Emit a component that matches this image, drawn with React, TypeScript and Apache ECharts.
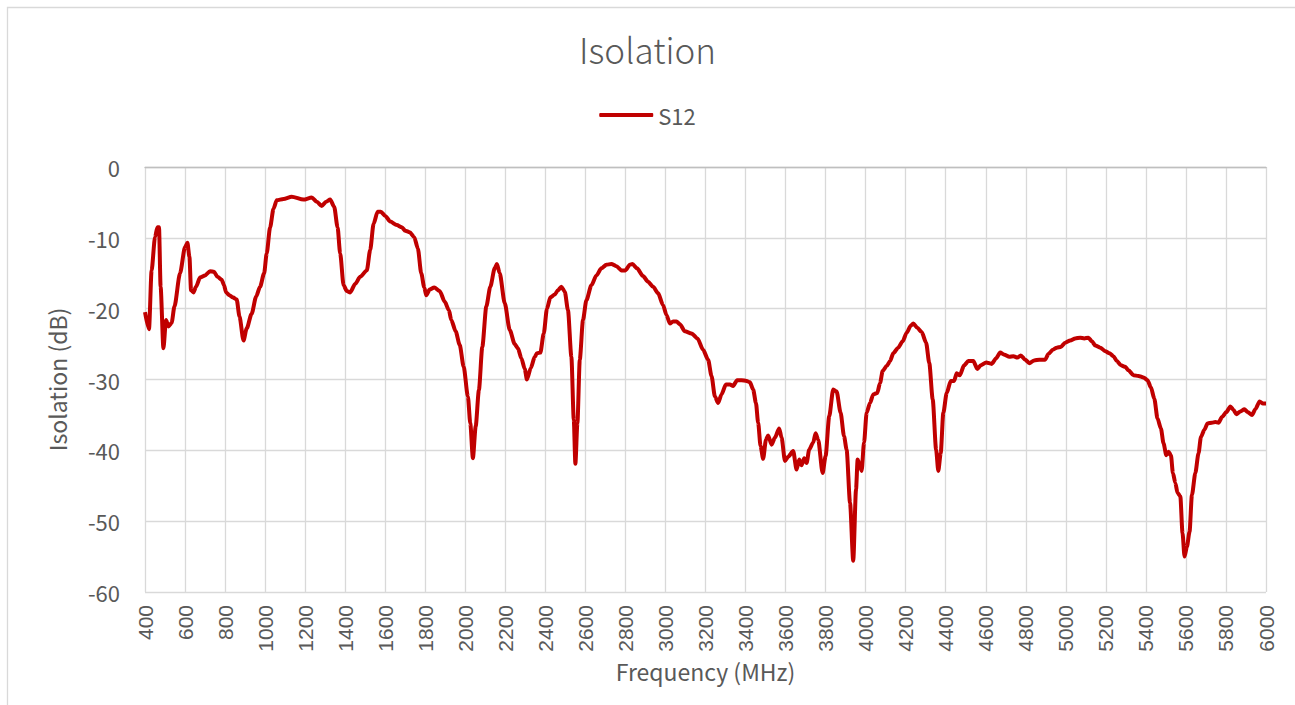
import React, { useEffect, useRef } from "react";
import * as echarts from "echarts";

const chartTitle = "Isolation";
const seriesName = "S12";
const xAxisTitle = "Frequency (MHz)";
const yAxisTitle = "Isolation (dB)";

const frequencyMHz = [
  400, 420, 433, 450, 462, 470, 478, 492, 505, 517, 533, 547, 575, 600, 612, 622, 630, 642, 655, 675,
  700, 725, 745, 762, 783, 795, 805, 822, 838, 858, 872, 892, 908, 933, 955, 975, 995, 1008, 1025, 1042,
  1058, 1092, 1133, 1192, 1233, 1258, 1283, 1305, 1325, 1345, 1362, 1375, 1392, 1408, 1425, 1450, 1475, 1508, 1525, 1542,
  1562, 1578, 1600, 1625, 1658, 1683, 1700, 1722, 1745, 1763, 1780, 1795, 1805, 1822, 1845, 1872, 1897, 1918, 1930, 1952,
  1972, 1992, 2013, 2025, 2038, 2052, 2068, 2085, 2105, 2125, 2147, 2158, 2172, 2197, 2222, 2247, 2263, 2280, 2297, 2308,
  2327, 2347, 2358, 2375, 2392, 2408, 2425, 2447, 2463, 2480, 2497, 2513, 2530, 2542, 2550, 2560, 2572, 2588, 2605, 2630,
  2655, 2680, 2705, 2730, 2755, 2780, 2800, 2822, 2835, 2858, 2888, 2913, 2938, 2963, 2988, 3005, 3022, 3038, 3055, 3072,
  3097, 3130, 3160, 3188, 3213, 3230, 3247, 3263, 3280, 3302, 3322, 3338, 3358, 3380, 3405, 3422, 3438, 3452, 3463, 3475,
  3488, 3502, 3513, 3530, 3547, 3568, 3580, 3597, 3613, 3638, 3655, 3668, 3680, 3693, 3705, 3718, 3738, 3750, 3763, 3785,
  3800, 3818, 3838, 3855, 3875, 3892, 3905, 3922, 3938, 3952, 3960, 3968, 3980, 3992, 4005, 4022, 4038, 4058, 4072, 4085,
  4105, 4122, 4138, 4163, 4185, 4205, 4225, 4238, 4258, 4280, 4302, 4318, 4335, 4352, 4363, 4375, 4388, 4405, 4425, 4442,
  4455, 4470, 4492, 4513, 4538, 4558, 4575, 4602, 4630, 4652, 4672, 4693, 4718, 4738, 4758, 4775, 4797, 4818, 4842, 4868,
  4897, 4913, 4935, 4955, 4975, 4997, 5022, 5047, 5072, 5092, 5113, 5130, 5147, 5172, 5197, 5218, 5238, 5255, 5275, 5297,
  5313, 5338, 5363, 5388, 5408, 5425, 5442, 5458, 5475, 5488, 5502, 5513, 5525, 5535, 5547, 5558, 5572, 5583, 5593, 5605,
  5618, 5630, 5647, 5663, 5675, 5692, 5708, 5730, 5747, 5763, 5780, 5802, 5822, 5838, 5852, 5872, 5892, 5908, 5930, 5947,
  5968, 5985, 6000,
];

const s12dB = [
  -20.5, -22.9, -14.6, -9.9, -8.5, -8.5, -16.9, -25.6, -21.6, -22.5, -22.0, -19.7, -15.0, -11.3, -10.7, -12.7, -17.4, -17.7, -16.9, -15.6,
  -15.3, -14.7, -14.8, -15.5, -15.9, -16.7, -17.7, -18.1, -18.4, -18.7, -21.1, -24.5, -22.8, -20.7, -18.3, -16.9, -15.0, -12.2, -8.5, -5.9,
  -4.7, -4.5, -4.2, -4.6, -4.3, -4.9, -5.5, -4.9, -4.6, -5.6, -8.5, -12.2, -16.7, -17.5, -17.7, -16.5, -15.5, -14.6, -11.7, -8.0,
  -6.3, -6.3, -6.9, -7.7, -8.2, -8.5, -9.0, -9.2, -9.9, -11.5, -15.0, -17.0, -18.1, -17.3, -17.0, -17.5, -19.0, -20.2, -21.6, -23.2,
  -25.1, -28.2, -32.4, -36.2, -41.1, -36.6, -31.5, -25.4, -19.7, -16.9, -14.3, -13.7, -15.0, -19.2, -23.0, -25.0, -25.6, -27.0, -28.5, -30.0,
  -28.4, -26.8, -26.3, -26.2, -23.5, -20.0, -18.4, -18.0, -17.4, -16.9, -17.6, -20.2, -26.8, -35.7, -41.9, -36.2, -27.2, -21.6, -18.8, -16.7,
  -15.3, -14.3, -13.8, -13.7, -14.0, -14.6, -14.6, -13.8, -13.7, -14.3, -15.4, -16.2, -16.9, -17.8, -19.5, -20.9, -22.1, -21.8, -21.8, -22.2,
  -23.2, -23.5, -24.2, -25.8, -27.2, -29.5, -32.4, -33.3, -32.1, -30.7, -30.7, -30.9, -30.1, -30.1, -30.2, -30.4, -31.4, -33.3, -36.1, -39.4,
  -41.2, -38.5, -37.9, -39.2, -38.2, -36.9, -38.2, -41.5, -40.9, -40.1, -42.7, -41.3, -42.1, -41.1, -41.8, -39.9, -38.9, -37.6, -38.5, -43.2,
  -40.8, -35.2, -31.4, -31.7, -34.7, -38.0, -39.9, -47.4, -55.6, -45.5, -41.3, -41.8, -42.9, -38.9, -34.7, -33.3, -32.1, -31.9, -30.5, -28.8,
  -28.1, -27.4, -26.3, -25.5, -24.6, -23.4, -22.4, -22.1, -22.7, -23.3, -24.8, -27.7, -32.8, -39.9, -42.9, -40.4, -34.7, -31.9, -30.2, -30.2,
  -29.1, -29.4, -28.0, -27.4, -27.4, -28.5, -28.0, -27.6, -27.8, -27.0, -26.2, -26.5, -26.8, -26.7, -26.9, -26.6, -27.2, -27.7, -27.3, -27.2,
  -27.2, -26.4, -25.8, -25.5, -25.4, -24.8, -24.5, -24.2, -24.1, -24.2, -24.1, -24.6, -25.2, -25.5, -26.0, -26.3, -26.7, -27.4, -28.0, -28.2,
  -28.7, -29.4, -29.5, -29.7, -30.1, -31.1, -32.7, -35.5, -36.9, -39.0, -40.7, -40.2, -40.7, -43.2, -44.6, -46.0, -46.5, -51.7, -55.0, -53.6,
  -51.5, -46.3, -43.2, -40.4, -38.1, -37.1, -36.2, -36.1, -36.0, -36.1, -35.3, -34.6, -33.8, -34.3, -34.9, -34.5, -34.2, -34.6, -35.0, -34.2,
  -33.1, -33.4, -33.4,
];

const xMin = 400;
const xMax = 6000;
const xStep = 200;
const yMin = -60;
const yMax = 0;
const yStep = 10;

const FONT = "'Noto Sans CJK SC', 'Noto Sans', sans-serif";
const TEXT_COLOR = "#595959";
const GRID_COLOR = "#D9D9D9";
const LINE_COLOR = "#C00000";

export default function App() {
  const ref = useRef<HTMLDivElement | null>(null);

  useEffect(() => {
    document.body.style.margin = "0";
    if (!ref.current) return;
    const chart = echarts.init(ref.current, null, { renderer: "svg" });
    const data = frequencyMHz.map((f, i) => [f, s12dB[i]]);
    chart.setOption({
      animation: false,
      backgroundColor: "#ffffff",
      textStyle: { fontFamily: FONT },
      graphic: [
        {
          type: "rect",
          left: 5,
          top: 5,
          shape: { x: 0, y: 0, width: 1289, height: 720 },
          style: { fill: "none", stroke: GRID_COLOR, lineWidth: 1.3 },
          silent: true,
        },
      ],
      title: {
        text: chartTitle,
        left: "center",
        top: 26,
        textStyle: {
          fontFamily: FONT,
          fontSize: 35,
          fontWeight: 300,
          color: TEXT_COLOR,
        },
      },
      legend: {
        top: 99,
        left: "center",
        icon: "roundRect",
        itemWidth: 54,
        itemHeight: 4,
        itemGap: 10,
        textStyle: { fontFamily: FONT, fontSize: 22, color: TEXT_COLOR },
        data: [seriesName],
      },
      grid: {
        left: 145,
        top: 167,
        width: 1121,
        height: 425,
        containLabel: false,
      },
      xAxis: {
        type: "value",
        min: xMin,
        max: xMax,
        interval: xStep,
        name: xAxisTitle,
        nameLocation: "middle",
        nameGap: 45,
        nameTextStyle: { fontFamily: FONT, fontSize: 23, color: TEXT_COLOR },
        axisLine: { show: true, lineStyle: { color: "#BFBFBF", width: 1.3 } },
        axisTick: { show: false },
        axisLabel: {
          rotate: 90,
          margin: 13,
          fontFamily: "'Liberation Sans', Arial, sans-serif",
          fontSize: 21,
          color: TEXT_COLOR,
          formatter: (v: number) => String(v),
        },
        splitLine: { show: true, lineStyle: { color: GRID_COLOR, width: 1.3 } },
      },
      yAxis: {
        type: "value",
        min: yMin,
        max: yMax,
        interval: yStep,
        name: yAxisTitle,
        nameLocation: "middle",
        nameGap: 77,
        nameTextStyle: { fontFamily: FONT, fontSize: 23, color: TEXT_COLOR },
        axisLine: { show: false },
        axisTick: { show: false },
        axisLabel: {
          margin: 25,
          fontFamily: FONT,
          fontSize: 22,
          color: TEXT_COLOR,
          formatter: (v: number) => String(v),
        },
        splitLine: { show: true, lineStyle: { color: GRID_COLOR, width: 1.3 } },
      },
      series: [
        {
          name: seriesName,
          type: "line",
          data,
          showSymbol: false,
          smooth: 0.25,
          smoothMonotone: "x",
          lineStyle: { color: LINE_COLOR, width: 4 },
          itemStyle: { color: LINE_COLOR },
        },
      ],
    });
    return () => chart.dispose();
  }, []);

  return <div ref={ref} style={{ width: 1295, height: 705 }} />;
}
